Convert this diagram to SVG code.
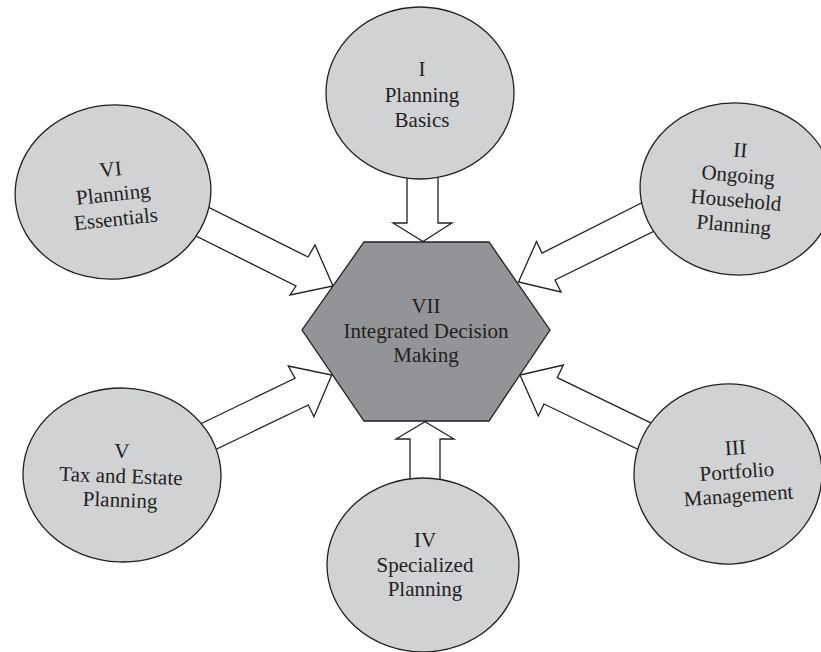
<svg xmlns="http://www.w3.org/2000/svg" width="821" height="652" viewBox="0 0 821 652">
<style>
.bg{fill:#ffffff}
.circ{fill:#d1d2d4;stroke:#231f20;stroke-width:1.3}
.hex{fill:#929497;stroke:#231f20;stroke-width:1.3}
.arr{fill:#ffffff;stroke:#231f20;stroke-width:1.3;stroke-linejoin:miter}
text{font-family:"Liberation Serif","Times New Roman",serif;font-size:21px;fill:#231f20;text-anchor:middle}
</style>
<rect class="bg" x="0" y="0" width="821" height="652"/>
<g id="connectors">
  <polygon class="arr" points="407,150 407,223 393,223 423,241.5 452,223 438,223 438,150"/>
  <polygon class="arr" points="410,500 410,439 396,439 425,421.7 454,439 440,439 440,500"/>
  <polygon class="arr" points="170,188 308,257 315,245 333,286 290,295 296,286 158,217"/>
  <polygon class="arr" points="681,183 542,253 536.5,241.5 518.5,282 561,292 555,280 693,212"/>
  <polygon class="arr" points="161,443 295,378.3 288.3,366 331.7,375 314,416.7 308.3,405 200,457"/>
  <polygon class="arr" points="690,441.8 557.3,377.7 563.3,365 520,375 538.3,416 544,404 680,469.7"/>
</g>
<g id="node-VII">
  <polygon class="hex" points="364,242 489,242 550,330 489,421 364,421 302,330"/>
  <text x="426" y="313">VII</text>
  <text x="426" y="338">Integrated Decision</text>
  <text x="426" y="362">Making</text>
</g>
<g id="node-I">
  <ellipse class="circ" cx="420" cy="93" rx="94" ry="86"/>
  <text x="422" y="76">I</text>
  <text x="422" y="102">Planning</text>
  <text x="422" y="127">Basics</text>
</g>
<g id="node-II" transform="rotate(5 737 189)">
  <ellipse class="circ" cx="737" cy="189" rx="97" ry="86"/>
  <text x="737" y="157">II</text>
  <text x="737" y="182">Ongoing</text>
  <text x="737" y="207">Household</text>
  <text x="737" y="232">Planning</text>
</g>
<g id="node-III" transform="rotate(-4 728 474)">
  <ellipse class="circ" cx="728" cy="474" rx="94" ry="90"/>
  <text x="737" y="455">III</text>
  <text x="737" y="479">Portfolio</text>
  <text x="737" y="503">Management</text>
</g>
<g id="node-IV">
  <ellipse class="circ" cx="423" cy="565" rx="96" ry="87"/>
  <text x="425" y="547">IV</text>
  <text x="425" y="572">Specialized</text>
  <text x="425" y="596">Planning</text>
</g>
<g id="node-V" transform="rotate(2 122 475)">
  <ellipse class="circ" cx="122" cy="475" rx="99" ry="87"/>
  <text x="121" y="458">V</text>
  <text x="121" y="483">Tax and Estate</text>
  <text x="121" y="507">Planning</text>
</g>
<g id="node-VI" transform="rotate(-6 113 192)">
  <ellipse class="circ" cx="113" cy="192" rx="98" ry="87"/>
  <text x="113" y="176">VI</text>
  <text x="113" y="201">Planning</text>
  <text x="113" y="226">Essentials</text>
</g>
</svg>
